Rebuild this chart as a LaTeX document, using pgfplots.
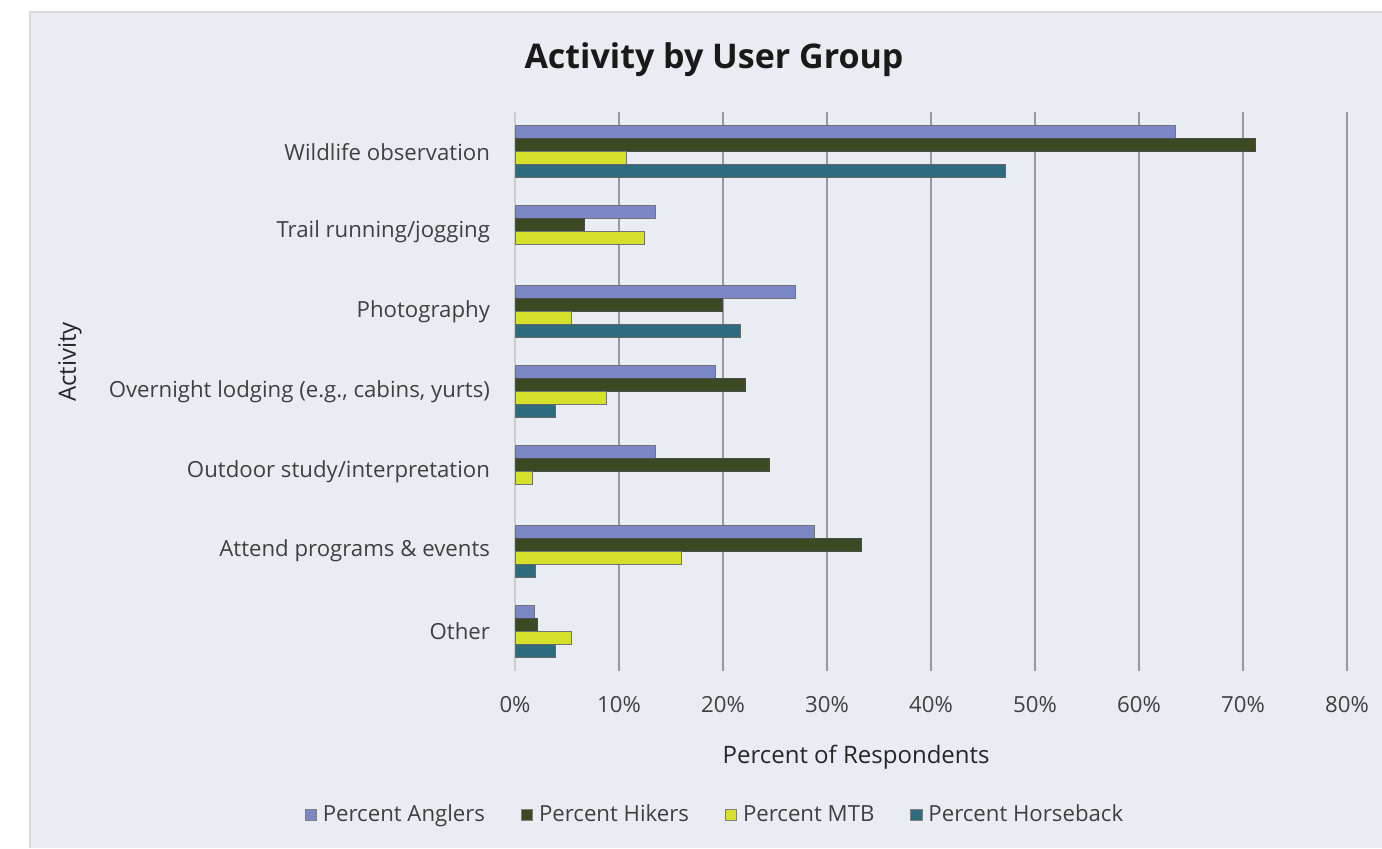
\documentclass[border=0pt]{standalone}
\usepackage{pgfplots}
\usepackage{pgfplotstable}
\pgfplotsset{compat=1.18}
\usepackage{fontspec}
\setmainfont{Open Sans}

\definecolor{panel}{HTML}{E9ECF3}
\definecolor{anglers}{HTML}{7B86C5}
\definecolor{hikers}{HTML}{3B4A22}
\definecolor{mtb}{HTML}{D4E02A}
\definecolor{horse}{HTML}{2E6B7E}
\definecolor{txt}{HTML}{404040}

% values, percent of respondents
\pgfplotstableread{
pos anglers hikers mtb horse
6 63.5 71.2 10.7 47.2
5 13.5 6.7 12.5 nan
4 27.0 20.0 5.4 21.7
3 19.3 22.2 8.8 3.9
2 13.5 24.5 1.7 nan
1 28.8 33.3 16.0 2.0
0 1.9 2.2 5.4 3.9
}\datatable

\begin{document}
\begin{tikzpicture}
  \fill[panel] (15pt,0) rectangle (691pt,418pt);
  \draw[black!15, line width=1pt] (15pt,0) -- (15pt,418pt) -- (691pt,418pt);
  \node[font=\fontsize{17}{19}\selectfont\bfseries, text=black!90] at (357pt,394pt) {Activity by User Group};
  \begin{axis}[
    xbar, bar width=6.5pt,
    scale only axis, width=416pt, height=279.5pt,
    at={(257.5pt,88.5pt)}, anchor=south west,
    xmin=0, xmax=80, ymin=-0.5, ymax=6.5,
    ytick={0,...,6},
    yticklabels={Other, Attend programs \& events, Outdoor study/interpretation, {Overnight lodging (e.g., cabins, yurts)}, Photography, Trail running/jogging, Wildlife observation},
    xtick={10,20,...,80},
    xticklabel={\pgfmathprintnumber{\tick}\%},
    extra x ticks={0}, extra x tick labels={0\%},
    extra x tick style={major grid style={black!20, line width=0.8pt}},
    xmajorgrids, major grid style={black!40, line width=0.8pt},
    axis line style={draw=none}, major tick length=0pt,
    /pgf/number format/assume math mode=true,
    ticklabel style={font=\fontsize{11.1}{12}\selectfont, text=txt},
    xticklabel style={yshift=-9pt},
    yticklabel style={xshift=-9pt},
    xlabel={Percent of Respondents},
    xlabel style={font=\fontsize{12}{14}\selectfont, text=black!85, at={(axis description cs:0.41,-0.154)}, anchor=center},
    ylabel={Activity},
    ylabel style={font=\fontsize{12}{14}\selectfont, text=black!85, at={(axis description cs:-0.535,0.553)}, anchor=center},
    legend columns=4,
    legend style={at={(0.2416,-0.2576)}, anchor=center, draw=none, fill=none,
      font=\fontsize{11.1}{12}\selectfont, text=txt,
      /tikz/every odd column/.append style={column sep=1pt},
      /tikz/every even column/.append style={column sep=16pt}},
    legend image code/.code={\draw[#1, draw=black!50, line width=0.4pt] (0pt,-2.8pt) rectangle (5.6pt,2.8pt);},
  ]
    \addplot[fill=anglers, draw=black!55, line width=0.5pt, bar shift=9.75pt] table[x=anglers, y=pos] {\datatable};
    \addplot[fill=hikers, draw=black!70, line width=0.5pt, bar shift=3.25pt] table[x=hikers, y=pos] {\datatable};
    \addplot[fill=mtb, draw=black!55, line width=0.5pt, bar shift=-3.25pt] table[x=mtb, y=pos] {\datatable};
    \addplot[fill=horse, draw=black!60, line width=0.5pt, bar shift=-9.75pt] table[x=horse, y=pos] {\datatable};
    \legend{Percent Anglers, Percent Hikers, Percent MTB, Percent Horseback}
  \end{axis}
  \pgfresetboundingbox
  \path[use as bounding box] (0,0) rectangle (691pt,424pt);
\end{tikzpicture}
\end{document}
